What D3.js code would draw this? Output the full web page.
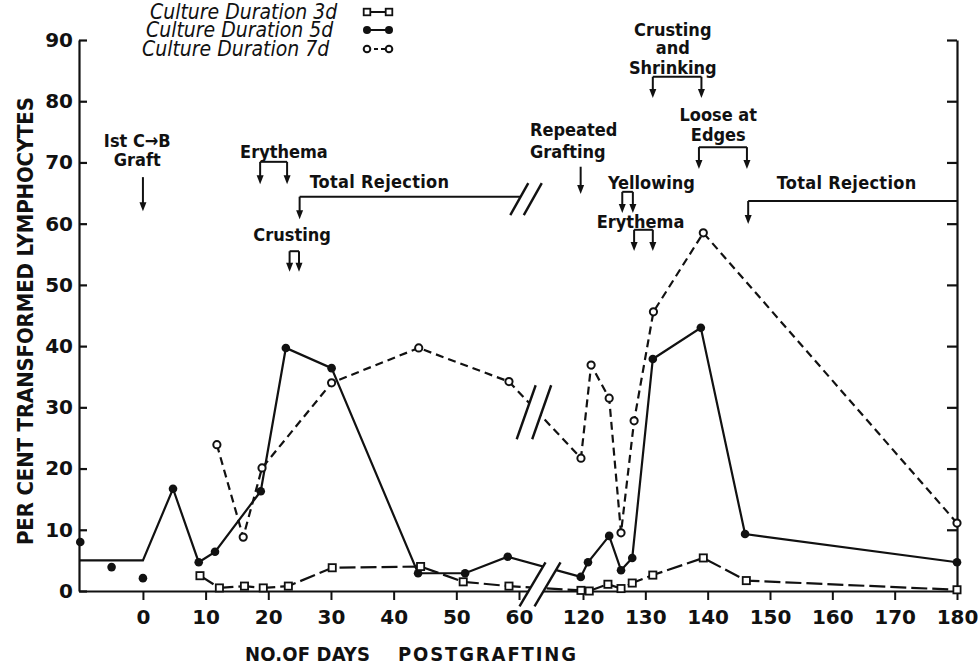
<!DOCTYPE html>
<html>
<head>
<meta charset="utf-8">
<script src="https://cdn.jsdelivr.net/npm/d3@7"></script>
<style>
  body { margin: 0; background: #fff; }
  svg { display: block; }
  text { fill: #111; }
  .lbl { font-family: "DejaVu Sans Condensed", "DejaVu Sans", sans-serif; font-weight: bold; font-size: 18px; }
  .tick text { font-family: "DejaVu Sans", sans-serif; font-weight: bold; font-size: 20px; }
  .legend { font-family: "DejaVu Sans Condensed", "DejaVu Sans", sans-serif; font-style: italic; font-size: 21px; }
</style>
</head>
<body>
<svg id="chart"></svg>
<script>
// per cent transformed lymphocytes vs days postgrafting (broken x axis 60..120)

var preDays = [-10, -5, 0];
var preVals = [8.0, 3.9, 2.1];

var baseDays = [-10.2, 0];
var baseVals = [5, 5];

var days3 = [9.1, 12.2, 16.2, 19.2, 23.2, 30.2, 44.3, 51.1, 58.4, 118.1, 121, 124, 126.1, 127.9, 131.2, 139.3, 146.2, 180];
var vals3 = [2.5, 0.5, 0.8, 0.5, 0.8, 3.8, 4.0, 1.5, 0.8, 0.1, 0, 1.1, 0.4, 1.3, 2.6, 5.4, 1.7, 0.2];

var days5 = [4.8, 8.9, 11.5, 18.8, 22.8, 30.1, 43.9, 51.4, 58.2, 117.9, 120.8, 124.2, 126.1, 127.9, 131.2, 138.9, 146.0, 180];
var vals5 = [16.7, 4.7, 6.4, 16.3, 39.7, 36.4, 2.9, 2.9, 5.6, 2.3, 4.7, 9.0, 3.4, 5.4, 37.9, 43.0, 9.3, 4.7];

var days7 = [11.8, 16.0, 19.0, 30.1, 44.0, 58.4, 118.1, 121.3, 124.2, 126.1, 128.2, 131.3, 139.3, 180];
var vals7 = [23.9, 8.8, 20.1, 34.0, 39.7, 34.2, 21.7, 36.9, 31.5, 9.5, 27.8, 45.6, 58.5, 11.1];

var xTicks = [0, 10, 20, 30, 40, 50, 60, 120, 130, 140, 150, 160, 170, 180];
var yTicks = [0, 10, 20, 30, 40, 50, 60, 70, 80, 90];

var legendLabels = ["Culture Duration 3d", "Culture Duration 5d", "Culture Duration 7d"];

// events above the curves: text lines, arrows (single) or brackets (pairs)
var events = [
  {lines: ["Ist C\u2192B", "Graft"], x: -0.9, y: [72.5, 69.4], anchor: "middle", arrows: [0], top: 67.6, bottom: 62.2},
  {lines: ["Erythema"], x: 22.5, y: [70.7], anchor: "middle", arrows: [18.7, 23], top: 70.1, bottom: 66.6},
  {lines: ["Crusting"], x: 23.8, y: [57.2], anchor: "middle", arrows: [23.4, 24.9], top: 55.5, bottom: 52.3},
  {lines: ["Repeated", "Grafting"], x: 70.3, y: [74.3, 70.7], anchor: "start", arrows: [117.8], top: 69.3, bottom: 65.0},
  {lines: ["Yellowing"], x: 124.0, y: [65.7], anchor: "start", arrows: [126.3, 128], top: 65.2, bottom: 61.9},
  {lines: ["Erythema"], x: 122.2, y: [59.3], anchor: "start", arrows: [128.2, 131.2], top: 59.0, bottom: 55.7},
  {lines: ["Crusting", "and", "Shrinking"], x: 134.4, y: [90.7, 87.7, 84.5], anchor: "middle", arrows: [131.2, 139], top: 84.0, bottom: 80.7},
  {lines: ["Loose at", "Edges"], x: 141.7, y: [76.8, 73.5], anchor: "middle", arrows: [138.6, 146.3], top: 72.5, bottom: 69.1}
];

var width = 979, height = 668;
var svg = d3.select("#chart").attr("width", width).attr("height", height);

var plotL = 79, plotR = 957, plotT = 40, plotB = 591;

var x = d3.scaleLinear()
    .domain([-10.2, 60, 120, 180])
    .range([plotL, 519, 583, plotR]);

var y = d3.scaleLinear()
    .domain([0, 90])
    .range([plotB, plotT]);

// axes
svg.append("g")
    .attr("transform", "translate(" + plotL + ",0)")
    .call(d3.axisLeft(y).tickValues(yTicks).tickSizeInner(-8).tickSizeOuter(0).tickPadding(6))
    .call(function(g) { g.selectAll("path, line").attr("stroke", "#111").attr("stroke-width", 2.2); });

svg.append("g")
    .attr("transform", "translate(" + plotR + ",0)")
    .call(d3.axisRight(y).tickValues(yTicks.slice(1)).tickSizeInner(-10).tickSizeOuter(0).tickFormat(""))
    .call(function(g) { g.selectAll("path, line").attr("stroke", "#111").attr("stroke-width", 2.2); });

var xAxis = svg.append("g")
    .attr("transform", "translate(0," + plotB + ")")
    .call(d3.axisBottom(x).tickValues(xTicks).tickSizeInner(9).tickSizeOuter(0).tickPadding(10).tickFormat(d3.format("d")));
xAxis.select(".domain").attr("stroke", "#111").attr("stroke-width", 2.2);
xAxis.selectAll(".tick line").attr("stroke", "#111").attr("stroke-width", 2);

// axis titles
svg.append("text")
    .attr("class", "lbl")
    .attr("transform", "translate(33,321) rotate(-90)")
    .attr("text-anchor", "middle")
    .attr("textLength", 448)
    .attr("lengthAdjust", "spacing")
    .style("font-size", "22px")
    .text("PER CENT TRANSFORMED LYMPHOCYTES");

svg.append("text")
    .attr("class", "lbl")
    .attr("x", 245).attr("y", 661)
    .attr("textLength", 125)
    .style("font-size", "20px")
    .text("NO.OF DAYS");

svg.append("text")
    .attr("class", "lbl")
    .attr("x", 398).attr("y", 661)
    .attr("textLength", 178)
    .style("font-size", "20px")
    .text("POSTGRAFTING");

// series lines
var line = d3.line()
    .x(function(d) { return x(d[0]); })
    .y(function(d) { return y(d[1]); });

var s3 = d3.zip(days3, vals3),
    s5 = d3.zip(days5, vals5),
    s7 = d3.zip(days7, vals7),
    base = d3.zip(baseDays, baseVals),
    pre = d3.zip(preDays, preVals);

svg.append("path")
    .datum(base.concat(s5))
    .attr("d", line)
    .attr("fill", "none").attr("stroke", "#111").attr("stroke-width", 2.2);

svg.append("path")
    .datum(s7)
    .attr("d", line)
    .attr("fill", "none").attr("stroke", "#111").attr("stroke-width", 2.2)
    .attr("stroke-dasharray", "8,5");

svg.append("path")
    .datum(s3)
    .attr("d", line)
    .attr("fill", "none").attr("stroke", "#111").attr("stroke-width", 2.2)
    .attr("stroke-dasharray", "16,5");

// "Total Rejection" bars
var rej = [
  {text: "Total Rejection", tx: 26.6, ty: 65.8, from: 25, to: 66.6, level: 64.4, bottom: 60.9},
  {text: "Total Rejection", tx: 151.1, ty: 65.7, from: 146.5, to: 180, level: 63.7, bottom: 60.1}
];

function arrow(g, xd, y0, y1) {
  var px = x(xd), a = y(y0), b = y(y1);
  g.append("line")
      .attr("x1", px).attr("x2", px).attr("y1", a).attr("y2", b - 6)
      .attr("stroke", "#111").attr("stroke-width", 2);
  g.append("path")
      .attr("d", "M" + (px - 3.5) + "," + (b - 8) + "L" + (px + 3.5) + "," + (b - 8) + "L" + px + "," + (b + 1) + "Z")
      .attr("fill", "#111");
}

var ann = svg.append("g");

rej.forEach(function(r) {
  ann.append("text").attr("class", "lbl")
      .attr("x", x(r.tx)).attr("y", y(r.ty))
      .attr("letter-spacing", 0.3)
      .text(r.text);
  ann.append("line")
      .attr("x1", x(r.from)).attr("x2", x(r.to))
      .attr("y1", y(r.level)).attr("y2", y(r.level))
      .attr("stroke", "#111").attr("stroke-width", 2.2);
  arrow(ann, r.from, r.level, r.bottom);
});

events.forEach(function(e) {
  e.lines.forEach(function(t, i) {
    ann.append("text").attr("class", "lbl")
        .attr("x", x(e.x)).attr("y", y(e.y[i]))
        .attr("text-anchor", e.anchor)
        .text(t);
  });
  if (e.arrows.length > 1) {
    ann.append("line")
        .attr("x1", x(e.arrows[0])).attr("x2", x(e.arrows[1]))
        .attr("y1", y(e.top)).attr("y2", y(e.top))
        .attr("stroke", "#111").attr("stroke-width", 2);
  }
  e.arrows.forEach(function(a) { arrow(ann, a, e.top, e.bottom); });
});

// axis breaks: white gap between two slashes
var breaks = [
  {cx: 79.7, cy: 1.1, dx: 13, dy: 22, gap: 15},
  {cx: 74, cy: 29.2, dx: 9.5, dy: 27, gap: 15.5},
  {cx: 66.6, cy: 64, dx: 9, dy: 16, gap: 13.5}
];

breaks.forEach(function(b) {
  var cx = x(b.cx), cy = y(b.cy), h = b.gap / 2;
  var s1 = [[cx - h + b.dx, cy - b.dy], [cx - h - b.dx, cy + b.dy]],
      s2 = [[cx + h + b.dx, cy - b.dy], [cx + h - b.dx, cy + b.dy]];
  svg.append("path")
      .attr("d", "M" + s1[0] + "L" + s2[0] + "L" + s2[1] + "L" + s1[1] + "Z")
      .attr("fill", "#fff");
  [s1, s2].forEach(function(s) {
    svg.append("line")
        .attr("x1", s[0][0]).attr("y1", s[0][1]).attr("x2", s[1][0]).attr("y2", s[1][1])
        .attr("stroke", "#111").attr("stroke-width", 2.4);
  });
});

// markers
svg.selectAll(".m5").data(pre.concat(s5)).enter().append("circle")
    .attr("cx", function(d) { return x(d[0]); })
    .attr("cy", function(d) { return y(d[1]); })
    .attr("r", 4.3).attr("fill", "#111");

svg.selectAll(".m7").data(s7).enter().append("circle")
    .attr("cx", function(d) { return x(d[0]); })
    .attr("cy", function(d) { return y(d[1]); })
    .attr("r", 3.6).attr("fill", "#fff").attr("stroke", "#111").attr("stroke-width", 2);

svg.selectAll(".m3").data(s3).enter().append("rect")
    .attr("x", function(d) { return x(d[0]) - 3.6; })
    .attr("y", function(d) { return y(d[1]) - 3.6; })
    .attr("width", 7.2).attr("height", 7.2)
    .attr("fill", "#fff").attr("stroke", "#111").attr("stroke-width", 1.8);

// legend
var lg = svg.append("g");
var lx = [150, 146, 142], ly = [19, 37, 56];
legendLabels.forEach(function(t, i) {
  lg.append("text").attr("class", "legend")
      .attr("x", lx[i]).attr("y", ly[i])
      .text(t);
  var yy = ly[i] - 7, x1 = 367, x2 = 389;
  var ln = lg.append("line").attr("x1", x1).attr("x2", x2).attr("y1", yy).attr("y2", yy)
      .attr("stroke", "#111").attr("stroke-width", 2);
  if (i === 2) ln.attr("stroke-dasharray", "4,3");
  [x1, x2].forEach(function(px) {
    if (i === 0) {
      lg.append("rect").attr("x", px - 3.3).attr("y", yy - 3.3).attr("width", 6.6).attr("height", 6.6)
          .attr("fill", "#fff").attr("stroke", "#111").attr("stroke-width", 1.8);
    } else if (i === 1) {
      lg.append("circle").attr("cx", px).attr("cy", yy).attr("r", 4).attr("fill", "#111");
    } else {
      lg.append("circle").attr("cx", px).attr("cy", yy).attr("r", 3.3)
          .attr("fill", "#fff").attr("stroke", "#111").attr("stroke-width", 2);
    }
  });
});
</script>
</body>
</html>
